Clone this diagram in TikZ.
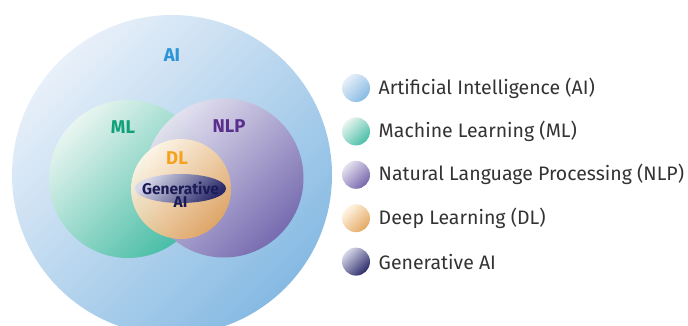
\documentclass[tikz,border=0pt]{standalone}
\usepackage{fontspec}
\setmainfont{Fira Sans}
\usetikzlibrary{positioning, shapes.geometric}

\definecolor{aiLight}{HTML}{E8F0F9}
\definecolor{aiMid}{HTML}{D0E1F3}
\definecolor{aiDark}{HTML}{86BAE3}
\definecolor{mlLight}{HTML}{E8F5F0}
\definecolor{mlMid}{HTML}{BFE4D8}
\definecolor{mlDark}{HTML}{48BDA6}
\definecolor{nlpLight}{HTML}{E6E2F0}
\definecolor{nlpMid}{HTML}{B4A9D2}
\definecolor{nlpDark}{HTML}{7565AC}
\definecolor{dlLight}{HTML}{FFF6E6}
\definecolor{dlMid}{HTML}{F8D5A6}
\definecolor{dlDark}{HTML}{E4A862}
\definecolor{genLight}{HTML}{D8D8EA}
\definecolor{genMid}{HTML}{8A8AB8}
\definecolor{genDark}{HTML}{2A2A6A}
\definecolor{aiText}{HTML}{2B95D6}
\definecolor{mlText}{HTML}{12A07C}
\definecolor{nlpText}{HTML}{5A2E8C}
\definecolor{dlText}{HTML}{F5A31E}
\definecolor{genText}{HTML}{1B1B55}
\definecolor{legText}{HTML}{333333}

\begin{document}
\begin{tikzpicture}[x=1pt, y=1pt,
  set/.style={circle, inner sep=0pt},
  aiset/.style={set, top color=aiLight, middle color=aiMid, bottom color=aiDark, shading angle=45},
  mlset/.style={set, top color=mlLight, middle color=mlMid, bottom color=mlDark, shading angle=45},
  nlpset/.style={set, top color=nlpLight, middle color=nlpMid, bottom color=nlpDark, shading angle=45},
  dlset/.style={set, top color=dlLight, middle color=dlMid, bottom color=dlDark, shading angle=45},
  genset/.style={set, top color=genLight, middle color=genMid, bottom color=genDark, shading angle=45},
  setlabel/.style={font=\fontsize{18.5}{18.5}\selectfont\bfseries},
  legdot/.style={minimum size=28pt},
  legtext/.style={right=5pt of #1, font=\fontsize{19.5}{19.5}\selectfont, text=legText}]
  \clip (0,0) rectangle (688,325);

  % sets
  \node[aiset, minimum size=320pt] (ai) at (172,150) {};
  \node[mlset, minimum size=158pt] (ml) at (128,146) {};
  \node[nlpset, minimum size=159pt, opacity=0.92] (nlp) at (224,147) {};
  \node[dlset, minimum size=100pt, opacity=0.93] (dl) at (181,136) {};
  \node[genset, ellipse, minimum width=91pt, minimum height=29pt] (gen) at (180.5,136.5) {};

  % labels
  \node[setlabel, text=aiText] (aiLbl) at (172,270) {AI};
  \node[setlabel, text=mlText] (mlLbl) at (123,198) {ML};
  \node[setlabel, text=nlpText] (nlpLbl) at (229,199) {NLP};
  \node[setlabel, text=dlText] (dlLbl) at (177,167) {DL};
  \node[font=\fontsize{15.5}{13.5}\selectfont\bfseries, text=genText, align=center, inner sep=0pt]
    (genLbl) at (180.5,130.5) {Generative\\AI};

  % legend
  \node[aiset, legdot] (lg1) at (356,237) {};
  \node[mlset, legdot, below=15pt of lg1] (lg2) {};
  \node[nlpset, legdot, below=15pt of lg2] (lg3) {};
  \node[dlset, legdot, below=15pt of lg3] (lg4) {};
  \node[genset, legdot, below=15pt of lg4] (lg5) {};
  \node[legtext=lg1] (lt1) {Artificial Intelligence (AI)};
  \node[legtext=lg2] (lt2) {Machine Learning (ML)};
  \node[legtext=lg3] (lt3) {Natural Language Processing (NLP)};
  \node[legtext=lg4] (lt4) {Deep Learning (DL)};
  \node[legtext=lg5] (lt5) {Generative AI};
\end{tikzpicture}
\end{document}
